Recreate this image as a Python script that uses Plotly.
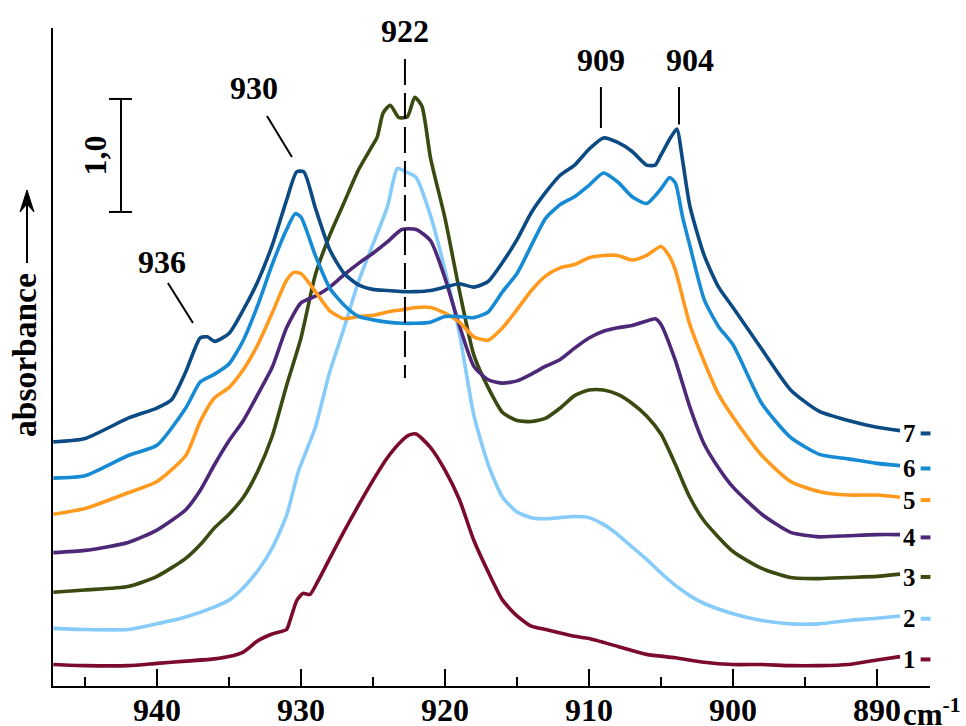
import plotly.graph_objects as go

# ---------------- data (wavenumber in cm^-1, absorbance with offsets) ----------------
wn1 = [947.2, 945, 942, 940, 938, 936, 935, 934, 933, 932, 931, 930.76, 930.28, 929.86, 929.38, 928.9, 928, 927, 926, 925,
       924, 923, 922.5, 922, 921, 920, 919, 918, 917, 916, 915, 914, 913, 912, 911, 910, 908, 906, 904, 902, 900, 898, 896,
       894, 892, 890, 888.4]
a1 = [0.19, 0.18, 0.18, 0.20, 0.22, 0.24, 0.26, 0.30, 0.40, 0.46, 0.50, 0.58, 0.76, 0.82, 0.81, 0.91, 1.13, 1.37, 1.60, 1.82,
      2.02, 2.17, 2.22, 2.23, 2.11, 1.91, 1.65, 1.29, 1.01, 0.76, 0.62, 0.53, 0.50, 0.47, 0.44, 0.42, 0.35, 0.28, 0.25, 0.21,
      0.19, 0.19, 0.18, 0.18, 0.19, 0.23, 0.26]

wn2 = [947.2, 945, 942, 940, 938, 936, 935, 934, 933, 932, 931, 930.2, 929.6, 929, 928, 927, 926, 925, 924, 923.3, 922.7,
       922, 921, 920, 919, 918, 917, 916, 915, 914, 913, 912, 911, 910, 909, 908, 907, 906, 905, 904, 903, 902, 900, 898,
       896, 894, 892, 890, 888.4]
a2 = [0.51, 0.50, 0.50, 0.55, 0.61, 0.70, 0.76, 0.87, 1.02, 1.22, 1.51, 1.89, 2.09, 2.29, 2.78, 3.17, 3.58, 3.91, 4.24, 4.58,
      4.55, 4.50, 4.16, 3.68, 3.12, 2.40, 1.96, 1.67, 1.54, 1.49, 1.48, 1.49, 1.50, 1.49, 1.43, 1.34, 1.23, 1.12, 1.00, 0.89,
      0.80, 0.73, 0.64, 0.58, 0.55, 0.55, 0.58, 0.60, 0.62]

wn3 = [947.2, 945, 942, 940, 938, 937, 936, 935, 934, 933, 932, 931, 930, 929, 928, 927, 926, 925, 924.7, 924.3, 923.8,
       923.2, 922.6, 922.1, 921.6, 921, 920, 919, 918, 917, 916, 915, 914, 913, 912, 911, 910, 909, 908, 907, 906, 905,
       904, 903, 902, 900, 898, 896, 894, 892, 890, 888.4]
a3 = [0.83, 0.85, 0.88, 0.97, 1.13, 1.25, 1.40, 1.52, 1.67, 1.90, 2.21, 2.66, 3.08, 3.64, 3.99, 4.28, 4.57, 4.79, 4.86, 5.07,
      5.14, 5.03, 5.04, 5.21, 5.13, 4.67, 4.14, 3.50, 2.93, 2.64, 2.42, 2.35, 2.34, 2.37, 2.46, 2.57, 2.62, 2.62, 2.58, 2.50,
      2.39, 2.23, 1.96, 1.67, 1.46, 1.19, 1.04, 0.96, 0.95, 0.96, 0.97, 0.99]

wn4 = [947.2, 945, 942, 940, 938, 937, 936, 935, 934, 933, 932, 931, 930, 929, 928, 927, 926, 925, 924, 923, 922, 921, 920,
       919, 918, 917, 916, 915, 914, 913, 912, 911, 910, 909, 908, 907, 906, 905.4, 905, 904, 903, 902, 901, 900, 898, 896,
       894, 892, 890, 888.4]
a4 = [1.18, 1.20, 1.27, 1.38, 1.56, 1.73, 1.96, 2.17, 2.35, 2.58, 2.82, 3.17, 3.39, 3.45, 3.53, 3.64, 3.74, 3.83, 3.93, 4.04,
      4.04, 3.94, 3.61, 3.19, 2.83, 2.71, 2.68, 2.70, 2.76, 2.83, 2.89, 2.99, 3.08, 3.14, 3.17, 3.19, 3.23, 3.25, 3.20, 2.88,
      2.47, 2.14, 1.93, 1.76, 1.52, 1.36, 1.32, 1.33, 1.34, 1.34]

wn5 = [947.2, 945, 942, 940, 938, 937, 936, 935, 934, 933, 932, 931, 930.5, 930, 929, 928, 927, 926, 925, 924, 923, 922,
       921, 920, 919, 918, 917, 916, 915, 914, 913, 912, 911, 910, 909, 908, 907, 906, 905, 904.4, 904, 903, 902, 901, 900,
       898, 896, 894, 892, 890, 888.4]
a5 = [1.52, 1.57, 1.71, 1.81, 2.04, 2.34, 2.55, 2.64, 2.80, 3.02, 3.30, 3.59, 3.66, 3.65, 3.49, 3.32, 3.25, 3.27, 3.28, 3.31,
      3.33, 3.35, 3.35, 3.30, 3.22, 3.09, 3.06, 3.17, 3.33, 3.50, 3.63, 3.70, 3.73, 3.79, 3.81, 3.81, 3.77, 3.81, 3.89, 3.80,
      3.68, 3.20, 2.87, 2.58, 2.38, 2.04, 1.81, 1.72, 1.69, 1.69, 1.67]

wn6 = [947.2, 945, 942, 940, 938, 937, 936, 935, 934, 933, 932, 931, 930.4, 930, 929, 928, 927, 926, 925, 924, 923, 922,
       921, 920, 919, 918, 917, 916, 915, 914, 913, 912, 911, 910, 909, 908, 907, 906, 905, 904.4, 904, 903.5, 903, 902,
       901, 900, 898, 896, 894, 892, 890, 888.4]
a6 = [1.84, 1.86, 2.04, 2.13, 2.46, 2.69, 2.76, 2.85, 3.06, 3.37, 3.73, 4.04, 4.18, 4.15, 3.81, 3.52, 3.37, 3.27, 3.24, 3.22,
      3.21, 3.21, 3.22, 3.27, 3.27, 3.26, 3.31, 3.49, 3.65, 3.90, 4.14, 4.26, 4.33, 4.43, 4.54, 4.46, 4.33, 4.27, 4.40, 4.50,
      4.45, 4.15, 3.90, 3.42, 3.18, 3.02, 2.50, 2.20, 2.05, 2.01, 1.97, 1.95]

wn7 = [947.2, 945, 942, 940, 939, 938, 937, 936.5, 936, 935, 934, 933, 932, 931, 930.3, 929.8, 929, 928, 927, 926, 925, 924,
       923, 922, 921, 920, 919, 918, 917, 916, 915, 914, 913, 912, 911, 910, 909, 908, 907, 906, 905.4, 905, 904.3, 903.9,
       903.5, 903, 902, 901, 900, 898, 896, 894, 892, 890, 888.4]
a7 = [2.16, 2.19, 2.37, 2.46, 2.53, 2.78, 3.08, 3.09, 3.05, 3.12, 3.33, 3.58, 3.90, 4.30, 4.55, 4.55, 4.23, 3.86, 3.65, 3.55,
      3.51, 3.50, 3.49, 3.49, 3.50, 3.53, 3.56, 3.53, 3.58, 3.75, 3.95, 4.19, 4.37, 4.52, 4.61, 4.75, 4.85, 4.81, 4.73, 4.61,
      4.61, 4.70, 4.86, 4.93, 4.65, 4.25, 3.81, 3.53, 3.35, 2.98, 2.62, 2.43, 2.35, 2.29, 2.26]

series_names = ["1", "2", "3", "4", "5", "6", "7"]
series_x = [wn1, wn2, wn3, wn4, wn5, wn6, wn7]
series_y = [a1, a2, a3, a4, a5, a6, a7]
colors = ["#7b0a2c", "#86cbfa", "#3a4a10", "#4d2878", "#ff9a1e", "#168bd3", "#0b4a83"]

x_tick_vals = [940, 930, 920, 910, 900, 890]
x_tick_text = ["940", "930", "920", "910", "900", "890"]

# peak labels: text, label position (wn, abs), leader line start/end
peak_labels = [
    ("936", 939.65, 3.75, (939.24, 3.566), (937.5, 3.212)),
    ("930", 933.26, 5.29, (932.36, 5.044), (930.63, 4.681)),
    ("909", 909.17, 5.54, (909.17, 5.301), (909.17, 4.938)),
    ("904", 902.99, 5.54, (903.75, 5.301), (903.75, 4.969)),
]
band_922 = ("922", 922.78, 5.80, 5.549, 2.726)

scale_x, scale_lo, scale_len = 942.5, 4.195, 1.0

# ---------------- figure ----------------
W, H = 966, 726
ML, MR, MT, MB = 53, 36, 28, 40
X_RANGE = [947.22, 886.32]
Y_RANGE = [0, 5.823]
FONT = "Liberation Serif, Times New Roman, serif"


def px_x(p):
    return (p - ML) / (W - ML - MR)


def px_y(p):
    return (H - MB - p) / (H - MT - MB)


fig = go.Figure()
for name, xs, ys, c in zip(series_names, series_x, series_y, colors):
    fig.add_trace(go.Scatter(x=xs, y=ys, mode="lines", name=name,
                             line=dict(color=c, width=3.6, shape="spline", smoothing=0.6),
                             hoverinfo="skip"))

annotations = []
shapes = []

# end labels 1..7 with small colored dashes
for name, xs, ys, c in zip(series_names, series_x, series_y, colors):
    annotations.append(dict(x=xs[-1], y=ys[-1], xref="x", yref="y", text=name, showarrow=False,
                            xanchor="left", yanchor="middle", xshift=1, yshift=-3,
                            font=dict(family=FONT, size=25, color="black", weight="bold")))
    fig.add_trace(go.Scatter(x=[886.63], y=[ys[-1] - 0.025], mode="markers", cliponaxis=False,
                             marker=dict(symbol="line-ew", size=7, line=dict(color=c, width=4)),
                             hoverinfo="skip", showlegend=False))

# peak labels and leader lines
for txt, lx, ly, p0, p1 in peak_labels:
    annotations.append(dict(x=lx, y=ly, xref="x", yref="y", text=txt, showarrow=False,
                            xanchor="center", yanchor="middle",
                            font=dict(family=FONT, size=32, color="black", weight="bold")))
    shapes.append(dict(type="line", xref="x", yref="y", x0=p0[0], y0=p0[1], x1=p1[0], y1=p1[1],
                       line=dict(color="black", width=2)))

txt, bx, by, d0, d1 = band_922
annotations.append(dict(x=bx, y=by, xref="x", yref="y", text=txt, showarrow=False,
                        xanchor="center", yanchor="middle",
                        font=dict(family=FONT, size=32, color="black", weight="bold")))
shapes.append(dict(type="line", xref="x", yref="y", x0=bx, y0=d0, x1=bx, y1=d1,
                   line=dict(color="black", width=2, dash="26px,8px")))

# scale bar 1,0
shapes.append(dict(type="line", xref="x", yref="y", x0=scale_x, x1=scale_x, y0=scale_lo, y1=scale_lo + scale_len,
                   line=dict(color="black", width=2)))
for yy in (scale_lo, scale_lo + scale_len):
    shapes.append(dict(type="line", xref="x", yref="y", x0=scale_x + 0.83, x1=scale_x - 0.76, y0=yy, y1=yy,
                       line=dict(color="black", width=2)))
annotations.append(dict(x=scale_x + 1.8, y=scale_lo + scale_len / 2, xref="x", yref="y", text="1,0",
                        showarrow=False, textangle=-90, xanchor="center", yanchor="middle",
                        font=dict(family=FONT, size=32, color="black", weight="bold")))

# y label with arrow (arrow drawn as shapes)
annotations.append(dict(x=px_x(24), y=px_y(355), xref="paper", yref="paper", text="absorbance",
                        showarrow=False, textangle=-90, xanchor="center", yanchor="middle",
                        font=dict(family=FONT, size=33.5, color="black", weight="bold")))
shapes.append(dict(type="line", xref="paper", yref="paper", x0=px_x(27), x1=px_x(27), y0=px_y(263), y1=px_y(194),
                   line=dict(color="black", width=2)))
head = "M {:.5f},{:.5f} L {:.5f},{:.5f} L {:.5f},{:.5f} L {:.5f},{:.5f} Z".format(
    px_x(20), px_y(212), px_x(27), px_y(190), px_x(34), px_y(212), px_x(27), px_y(204))
shapes.append(dict(type="path", xref="paper", yref="paper", path=head,
                   line=dict(color="black", width=1), fillcolor="black"))

# unit label
annotations.append(dict(x=px_x(902), y=px_y(712), xref="paper", yref="paper", text="cm<sup>-1</sup>",
                        showarrow=False, xanchor="left", yanchor="middle", borderpad=0,
                        font=dict(family=FONT, size=31, color="black", weight="bold")))

fig.update_layout(
    width=W, height=H,
    margin=dict(l=ML, r=MR, t=MT, b=MB, pad=0, autoexpand=False),
    paper_bgcolor="white", plot_bgcolor="white",
    showlegend=False,
    annotations=annotations, shapes=shapes,
    xaxis=dict(range=X_RANGE, showgrid=False, zeroline=False, showline=True, linecolor="black", linewidth=2,
               automargin=False,
               ticks="inside", ticklen=17, tickwidth=2, tickcolor="black",
               tickvals=x_tick_vals, ticktext=x_tick_text,
               tickfont=dict(family=FONT, size=32, color="black", weight="bold"),
               ticklabelstandoff=-5,
               minor=dict(ticks="inside", ticklen=9, tickwidth=2, tickcolor="black", dtick=5, tick0=0)),
    yaxis=dict(range=Y_RANGE, showgrid=False, zeroline=False, showline=True, linecolor="black", linewidth=2,
               automargin=False, ticks="", showticklabels=False),
)

fig.write_html("out.html")
